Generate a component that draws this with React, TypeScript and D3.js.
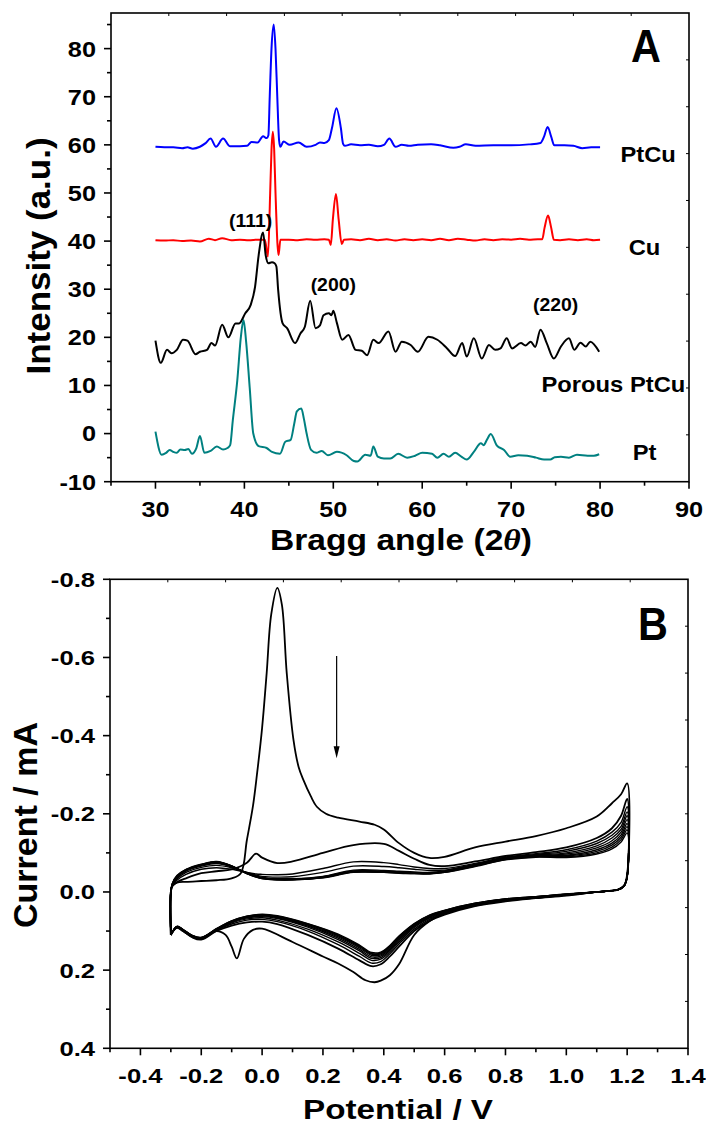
import React from "react";
import * as d3 from "d3";

// ---------- Panel A : XRD patterns (2theta, intensity a.u.) ----------
const ptcuXrd: [number, number][] = [
  [30, 59.6], [31, 59.5], [32, 59.5], [33, 59.3], [33.6, 59.5], [34.2, 59.2], [35, 59.6], [35.6, 60.3],
  [36.2, 61.3], [36.8, 59.6], [37.6, 61.3], [38.4, 59.7], [39.5, 59.7], [40.3, 59.8], [40.8, 60.6],
  [41.5, 60.5], [42.1, 61.8], [42.5, 61.4], [42.7, 62.0], [42.85, 70], [43.05, 80], [43.3, 85], [43.5, 80],
  [43.7, 70], [43.9, 61], [44.05, 59.6], [44.4, 60.7], [45.1, 60.0], [46.1, 60.5], [47.0, 59.6], [48.0, 60.0],
  [48.5, 60.5], [49.0, 60.4], [49.5, 61.0], [49.85, 63.5], [50.35, 67.6], [50.85, 63.5], [51.1, 60.2],
  [51.3, 59.8], [52, 60.1], [53, 59.9], [54, 60.0], [55, 59.7], [55.7, 60.0], [56.3, 61.3], [57.0, 59.6],
  [57.7, 60.0], [58.5, 59.8], [59.5, 60.0], [61, 60.1], [62, 59.9], [63.5, 59.4], [64.2, 59.6], [64.9, 60.1],
  [66, 59.8], [68, 59.9], [70, 59.9], [72, 60.1], [73.3, 60.4], [73.7, 61.7], [74.1, 63.7], [74.5, 61.7],
  [74.85, 59.9], [76, 59.9], [77, 59.8], [78, 59.3], [79, 59.5], [80, 59.5],
];

const cuXrd: [number, number][] = [
  [30, 40.2], [31, 40.1], [32, 40.2], [33, 40.0], [34, 40.1], [35, 39.9], [36, 40.5], [36.7, 40.2],
  [37.5, 40.6], [38.5, 40.2], [39.5, 40.3], [40.5, 40.2], [41.5, 40.3], [42.3, 40.3], [42.65, 36.8],
  [42.9, 50], [43.05, 59], [43.2, 62.7], [43.35, 59], [43.5, 50], [43.84, 37.1], [44.05, 40.3], [45, 40.3],
  [46, 40.2], [47, 40.4], [48, 40.3], [49, 40.4], [49.5, 40.3], [49.72, 39.2], [49.95, 44.5], [50.3, 49.8],
  [50.6, 44.5], [50.95, 39.4], [51.2, 40.3], [52, 40.4], [53, 40.2], [54, 40.5], [55, 40.2], [56, 40.4],
  [57, 40.1], [58, 40.4], [59, 40.2], [60, 40.4], [61, 40.2], [62, 40.5], [63, 40.2], [64, 40.5], [65, 40.3],
  [66, 40.1], [67, 40.4], [68, 40.2], [69, 40.4], [70, 40.3], [71, 40.5], [72, 40.3], [73, 40.4],
  [73.5, 40.4], [73.76, 42.8], [74.15, 45.3], [74.5, 42.8], [74.8, 40.3], [75.5, 40.2], [76.5, 40.4],
  [77.5, 40.2], [78.5, 40.4], [79.3, 40.2], [80, 40.3],
];

const porousXrd: [number, number][] = [
  [30, 19.3], [30.6, 14.7], [31.3, 17.4], [31.8, 16.7], [32.4, 17.4], [33.1, 19.5], [33.6, 19.3],
  [34.5, 16.5], [35.0, 17.0], [35.8, 17.4], [36.3, 18.8], [36.7, 18.3], [37.5, 22.6], [38.2, 20.0],
  [39.0, 22.9], [39.4, 22.9], [40.1, 25.0], [40.7, 26.7], [41.2, 30.5], [41.6, 37], [42.1, 41.8],
  [42.4, 37], [42.7, 35.4], [43.1, 35.6], [43.4, 35.4], [43.6, 34.7], [43.8, 29.8], [44.3, 22.9],
  [44.8, 21.9], [45.7, 18.8], [46.3, 20.8], [46.8, 22.2], [47.4, 27.6], [48.0, 21.9], [48.5, 22.5],
  [48.9, 24.6], [49.5, 25.0], [49.8, 24.6], [50.0, 25.5], [50.4, 23], [51.0, 19.5], [51.7, 20.5],
  [52.5, 17.4], [53.2, 17.2], [53.8, 16.3], [54.5, 19.5], [55.1, 18.8], [56.2, 21.2], [57.0, 17.0],
  [57.7, 19.1], [58.7, 18.4], [59.5, 17.0], [60.7, 20.1], [61.7, 19.5], [62.8, 17.7], [63.7, 16.1],
  [64.5, 18.8], [65.0, 16.0], [65.8, 19.8], [66.7, 15.6], [67.5, 18.4], [68.2, 17.4], [68.8, 17.7],
  [69.5, 19.8], [70.1, 17.7], [71.1, 18.8], [71.6, 18.3], [72.2, 19.1], [72.7, 18.0], [73.3, 21.6],
  [74.0, 18.8], [74.8, 15.6], [75.6, 18.1], [76.5, 19.8], [77.1, 17.4], [77.8, 18.9], [78.4, 18.1],
  [78.9, 19.1], [79.9, 17.0],
];

const ptXrd: [number, number][] = [
  [30, 0.4], [30.7, -4.4], [31.2, -4.0], [31.6, -3.4], [32.0, -3.8], [32.4, -4.0], [32.8, -3.3],
  [33.3, -3.4], [33.7, -3.2], [34.1, -4.2], [34.6, -3.0], [35.0, -0.5], [35.5, -4.0], [36.2, -3.6],
  [36.9, -2.7], [37.6, -3.3], [38.1, -3.0], [38.4, -2.4], [38.7, 2.8], [39.2, 11], [39.6, 20],
  [39.9, 23.6], [40.2, 19], [40.6, 9.5], [41.0, 0], [41.6, -2.6], [42.5, -3.0], [43.1, -3.8], [44.0, -4.2],
  [44.6, -1.7], [45.2, -1.3], [45.6, 2], [45.9, 4.6], [46.4, 5.2], [46.7, 3], [47.0, 0], [47.5, -3.4],
  [48.1, -4.0], [48.7, -3.6], [49.4, -4.5], [50.4, -3.8], [51.5, -4.5], [52.3, -5.7], [52.7, -5.8],
  [53.6, -4.4], [54.2, -4.6], [54.5, -2.7], [55.0, -4.8], [55.7, -5.2], [56.4, -5.2], [57.3, -4.2],
  [58.3, -5.0], [59.2, -4.6], [60.0, -4.0], [61.1, -4.2], [61.7, -5], [62.4, -4.2], [63.0, -4.8],
  [63.7, -4.0], [64.4, -4.8], [65.0, -5.4], [65.8, -3.8], [66.6, -2.0], [66.9, -2.4], [67.3, -1.2],
  [67.7, -0.1], [68.4, -2.5], [69.2, -3.4], [69.9, -4.8], [70.8, -4.5], [71.8, -4.6], [72.8, -5.0],
  [73.7, -5.4], [74.4, -5.4], [74.9, -4.9], [75.6, -4.8], [76.5, -5.0], [77.4, -4.4], [78.6, -4.6],
  [79.3, -4.6], [79.9, -4.3],
];

const xrdSeries = [
  { name: "PtCu", color: "#0000ff", points: ptcuXrd },
  { name: "Cu", color: "#ff0000", points: cuXrd },
  { name: "Porous PtCu", color: "#000000", points: porousXrd },
  { name: "Pt", color: "#008080", points: ptXrd },
];

// series labels and peak labels, anchored in data coordinates
const xrdNames = [
  { text: "PtCu", at: [85.4, 56.45] },
  { text: "Cu", at: [85.0, 37.1] },
  { text: "Porous PtCu", at: [81.5, 8.64] },
  { text: "Pt", at: [85.0, -5.49] },
];
const peakNames = [
  { text: "(111)", at: [40.7, 43.0] },
  { text: "(200)", at: [50.0, 29.6] },
  { text: "(220)", at: [75.0, 25.5] },
];

const aXMajor = [30, 40, 50, 60, 70, 80, 90];
const aXMinor = [25, 35, 45, 55, 65, 75, 85];
const aYMajor = [-10, 0, 10, 20, 30, 40, 50, 60, 70, 80];
const aYMinor = [-5, 5, 15, 25, 35, 45, 55, 65, 75, 85];

// ---------- Panel B : cyclic voltammograms (V, mA) ----------
// first cycle, anodic sweep
const E_C1 = [-0.3, -0.3, -0.295, -0.28, -0.25, -0.2, -0.15, -0.1, -0.07, -0.05, -0.03, -0.017, 0, 0.015, 0.03,
  0.05, 0.065, 0.081, 0.103, 0.12, 0.136, 0.16, 0.18, 0.21, 0.25, 0.32, 0.37, 0.4, 0.45, 0.5, 0.55, 0.6, 0.7,
  0.8, 0.9, 1.0, 1.1, 1.15, 1.18, 1.2];
const I_C1 = [0.11, 0.0, -0.015, -0.024, -0.026, -0.028, -0.03, -0.035, -0.048, -0.133, -0.22, -0.3, -0.42,
  -0.56, -0.71, -0.778, -0.735, -0.56, -0.39, -0.32, -0.286, -0.245, -0.218, -0.2, -0.19, -0.18, -0.172,
  -0.16, -0.125, -0.1, -0.087, -0.09, -0.114, -0.129, -0.143, -0.163, -0.193, -0.227, -0.25, -0.278];
// first cycle, cathodic sweep
const E_C1R = [1.2, 1.19, 1.17, 1.13, 1.1, 1.0, 0.9, 0.8, 0.7, 0.6, 0.55, 0.5, 0.45, 0.42, 0.39, 0.37, 0.34,
  0.3, 0.25, 0.2, 0.1, 0.0, -0.03, -0.06, -0.083, -0.1, -0.12, -0.15, -0.2, -0.23, -0.26, -0.28, -0.3];
const I_C1R = [-0.045, -0.016, -0.006, -0.002, 0.0, 0.008, 0.015, 0.022, 0.035, 0.055, 0.075, 0.11, 0.185,
  0.213, 0.227, 0.231, 0.226, 0.205, 0.183, 0.165, 0.128, 0.094, 0.097, 0.12, 0.17, 0.14, 0.11, 0.1, 0.119,
  0.114, 0.1, 0.09, 0.11];

// later cycles share potential grids
const E_AN = [-0.3, -0.3, -0.295, -0.28, -0.25, -0.2, -0.15, -0.1, -0.05, -0.02, 0, 0.05, 0.1, 0.2, 0.3, 0.4,
  0.45, 0.5, 0.55, 0.6, 0.7, 0.8, 0.9, 1.0, 1.1, 1.15, 1.18, 1.2];
const E_CA = [1.2, 1.19, 1.17, 1.13, 1.1, 1.0, 0.9, 0.8, 0.7, 0.6, 0.55, 0.5, 0.45, 0.42, 0.39, 0.36, 0.32,
  0.25, 0.15, 0.05, 0.0, -0.05, -0.1, -0.15, -0.2, -0.23, -0.26, -0.28, -0.3];

const anodic = [
  [0.11, 0.0, -0.015, -0.025, -0.035, -0.048, -0.053, -0.058, -0.075, -0.098, -0.088, -0.074, -0.078, -0.1,
    -0.12, -0.123, -0.105, -0.085, -0.069, -0.066, -0.078, -0.092, -0.102, -0.114, -0.138, -0.163, -0.195, -0.238],
  [0.11, 0.0, -0.017, -0.03, -0.045, -0.058, -0.062, -0.058, -0.05, -0.046, -0.045, -0.044, -0.046, -0.06,
    -0.077, -0.075, -0.07, -0.064, -0.06, -0.06, -0.073, -0.089, -0.098, -0.108, -0.13, -0.153, -0.178, -0.218],
  [0.11, 0.0, -0.018, -0.033, -0.05, -0.063, -0.068, -0.062, -0.05, -0.043, -0.04, -0.038, -0.039, -0.05,
    -0.066, -0.065, -0.062, -0.058, -0.055, -0.056, -0.071, -0.088, -0.096, -0.104, -0.124, -0.145, -0.168, -0.205],
  [0.11, 0.0, -0.019, -0.036, -0.053, -0.066, -0.073, -0.064, -0.049, -0.041, -0.037, -0.034, -0.034, -0.04,
    -0.056, -0.055, -0.053, -0.051, -0.05, -0.054, -0.07, -0.087, -0.094, -0.1, -0.118, -0.138, -0.16, -0.195],
  [0.11, 0.0, -0.02, -0.038, -0.055, -0.068, -0.075, -0.065, -0.048, -0.04, -0.036, -0.033, -0.033, -0.039,
    -0.054, -0.053, -0.051, -0.049, -0.049, -0.053, -0.069, -0.086, -0.093, -0.097, -0.113, -0.131, -0.153, -0.185],
  [0.11, 0.0, -0.02, -0.039, -0.056, -0.069, -0.076, -0.066, -0.048, -0.04, -0.035, -0.032, -0.032, -0.038,
    -0.053, -0.052, -0.05, -0.048, -0.048, -0.052, -0.068, -0.085, -0.092, -0.094, -0.108, -0.125, -0.146, -0.175],
  [0.11, 0.0, -0.021, -0.04, -0.057, -0.07, -0.077, -0.066, -0.047, -0.039, -0.035, -0.032, -0.032, -0.037,
    -0.052, -0.051, -0.049, -0.048, -0.047, -0.051, -0.067, -0.084, -0.091, -0.092, -0.104, -0.12, -0.14, -0.167],
  [0.11, 0.0, -0.021, -0.041, -0.057, -0.07, -0.077, -0.067, -0.047, -0.039, -0.034, -0.031, -0.031, -0.037,
    -0.051, -0.05, -0.049, -0.047, -0.047, -0.05, -0.066, -0.083, -0.09, -0.09, -0.1, -0.115, -0.134, -0.159],
  [0.11, 0.0, -0.022, -0.042, -0.058, -0.071, -0.078, -0.067, -0.047, -0.038, -0.034, -0.031, -0.031, -0.036,
    -0.05, -0.05, -0.048, -0.047, -0.046, -0.05, -0.065, -0.082, -0.089, -0.088, -0.097, -0.11, -0.128, -0.151],
];

const cathodic = [
  [-0.04, -0.016, -0.006, -0.002, 0.0, 0.009, 0.016, 0.024, 0.036, 0.058, 0.074, 0.1, 0.14, 0.165, 0.185,
    0.19, 0.175, 0.145, 0.11, 0.082, 0.076, 0.078, 0.086, 0.1, 0.122, 0.116, 0.1, 0.092, 0.11],
  [-0.04, -0.016, -0.006, -0.002, 0.0, 0.008, 0.015, 0.022, 0.034, 0.055, 0.07, 0.095, 0.133, 0.158, 0.178,
    0.182, 0.165, 0.135, 0.1, 0.076, 0.07, 0.072, 0.082, 0.098, 0.121, 0.115, 0.099, 0.091, 0.11],
  [-0.04, -0.016, -0.006, -0.002, 0.0, 0.008, 0.014, 0.021, 0.033, 0.053, 0.067, 0.091, 0.128, 0.153, 0.172,
    0.175, 0.157, 0.128, 0.095, 0.072, 0.066, 0.069, 0.079, 0.097, 0.12, 0.114, 0.098, 0.09, 0.11],
  [-0.04, -0.016, -0.006, -0.002, 0.0, 0.007, 0.014, 0.02, 0.032, 0.052, 0.065, 0.088, 0.124, 0.149, 0.168,
    0.17, 0.151, 0.122, 0.09, 0.068, 0.063, 0.066, 0.077, 0.096, 0.119, 0.113, 0.098, 0.09, 0.11],
  [-0.04, -0.016, -0.006, -0.002, 0.0, 0.007, 0.013, 0.019, 0.031, 0.05, 0.063, 0.086, 0.121, 0.146, 0.164,
    0.166, 0.147, 0.118, 0.087, 0.066, 0.061, 0.065, 0.076, 0.096, 0.118, 0.113, 0.097, 0.089, 0.11],
  [-0.04, -0.016, -0.006, -0.002, 0.0, 0.006, 0.013, 0.019, 0.03, 0.049, 0.062, 0.084, 0.118, 0.143, 0.161,
    0.162, 0.143, 0.115, 0.085, 0.064, 0.06, 0.064, 0.075, 0.095, 0.118, 0.112, 0.097, 0.089, 0.11],
  [-0.04, -0.016, -0.006, -0.002, 0.0, 0.006, 0.012, 0.018, 0.03, 0.048, 0.061, 0.083, 0.116, 0.14, 0.158,
    0.159, 0.14, 0.112, 0.083, 0.063, 0.059, 0.063, 0.075, 0.095, 0.117, 0.112, 0.096, 0.089, 0.11],
  [-0.04, -0.016, -0.006, -0.002, 0.0, 0.006, 0.012, 0.018, 0.029, 0.047, 0.06, 0.082, 0.114, 0.138, 0.156,
    0.157, 0.138, 0.11, 0.082, 0.062, 0.058, 0.062, 0.074, 0.094, 0.117, 0.111, 0.096, 0.088, 0.11],
  [-0.04, -0.016, -0.006, -0.002, 0.0, 0.005, 0.012, 0.018, 0.029, 0.047, 0.059, 0.081, 0.113, 0.137, 0.154,
    0.155, 0.136, 0.108, 0.081, 0.061, 0.057, 0.062, 0.074, 0.094, 0.116, 0.111, 0.096, 0.088, 0.11],
];

// arrow showing the decrease with cycling (potential, current from -> to)
const arrowE = 0.245;
const arrowFrom = -0.604;
const arrowTo = -0.342;

const bXMajor = [-0.4, -0.2, 0, 0.2, 0.4, 0.6, 0.8, 1.0, 1.2, 1.4];
const bXMinor = [-0.5, -0.3, -0.1, 0.1, 0.3, 0.5, 0.7, 0.9, 1.1, 1.3];
const bYMajor = [-0.8, -0.6, -0.4, -0.2, 0, 0.2, 0.4];
const bYMinor = [-0.7, -0.5, -0.3, -0.1, 0.1, 0.3];

const FONT = "'Liberation Sans', Arial, Helvetica, sans-serif";

const zip = (e: number[], i: number[]) => e.map((v, k) => [v, i[k]] as [number, number]);

function Txt({ x, y, size, sx = 1, anchor = "middle", rotate = 0, children }: any) {
  return (
    <text
      transform={`translate(${x},${y}) rotate(${rotate}) scale(${sx},1)`}
      textAnchor={anchor}
      fontSize={size}
      fontWeight="bold"
      fontFamily={FONT}
      fill="#000"
    >
      {children}
    </text>
  );
}

// box frame with outward ticks on left/bottom and small inward ticks on top/right
function Axes({ x, y, xMajor, xMinor, yMajor, yMinor, fmtX, fmtY, size, sx }: any) {
  const [x0, x1] = x.range();
  const yb = Math.max(...y.range()); // bottom
  const yt = Math.min(...y.range()); // top
  const frac = d3.range(1, 10).map((i) => i / 10);
  return (
    <g stroke="#000" strokeWidth={1.6} fill="none">
      <rect x={x0} y={yt} width={x1 - x0} height={yb - yt} />
      {xMajor.map((v: number) => (
        <line key={"xM" + v} x1={x(v)} x2={x(v)} y1={yb} y2={yb + 7} />
      ))}
      {xMinor.map((v: number) => (
        <line key={"xm" + v} x1={x(v)} x2={x(v)} y1={yb} y2={yb + 4} />
      ))}
      {yMajor.map((v: number) => (
        <line key={"yM" + v} x1={x0} x2={x0 - 7} y1={y(v)} y2={y(v)} />
      ))}
      {yMinor.map((v: number) => (
        <line key={"ym" + v} x1={x0} x2={x0 - 4} y1={y(v)} y2={y(v)} />
      ))}
      {frac.map((f) => (
        <line key={"t" + f} x1={x0 + f * (x1 - x0)} x2={x0 + f * (x1 - x0)} y1={yt} y2={yt + 3} strokeWidth={1} />
      ))}
      {frac.map((f) => (
        <line key={"r" + f} x1={x1} x2={x1 - 3} y1={yt + f * (yb - yt)} y2={yt + f * (yb - yt)} strokeWidth={1} />
      ))}
      <g stroke="none">
        {xMajor.map((v: number) => (
          <Txt key={"xl" + v} x={x(v)} y={yb + 35} size={size} sx={sx}>
            {fmtX(v)}
          </Txt>
        ))}
        {yMajor.map((v: number) => (
          <Txt key={"yl" + v} x={x0 - 15} y={y(v) + size * 0.36} size={size} sx={sx} anchor="end">
            {fmtY(v)}
          </Txt>
        ))}
      </g>
    </g>
  );
}

export default function App() {
  const xA = d3.scaleLinear().domain([25, 90]).range([111, 689]);
  const yA = d3.scaleLinear().domain([-10, 87.4]).range([481.7, 13]);
  const xB = d3.scaleLinear().domain([-0.5, 1.4]).range([110, 688]);
  const yB = d3.scaleLinear().domain([-0.8, 0.4]).range([579.3, 1048.3]);

  const lineA = d3
    .line<[number, number]>()
    .x((d) => xA(d[0]))
    .y((d) => yA(d[1]))
    .curve(d3.curveMonotoneX);

  const lineB = d3
    .line<[number, number]>()
    .x((d) => xB(d[0]))
    .y((d) => yB(d[1]))
    .curve(d3.curveCatmullRom.alpha(0.5));

  const cycles = [[...zip(E_C1, I_C1), ...zip(E_C1R, I_C1R)]].concat(
    anodic.map((a, k) => [...zip(E_AN, a), ...zip(E_CA, cathodic[k])])
  );

  const ax = xB(arrowE);
  const tipY = yB(arrowTo);

  return (
    <svg
      width={706}
      height={1126}
      style={{ position: "absolute", left: 0, top: 0, background: "#fff" }}
    >
      {/* ---------- Panel A ---------- */}
      <Axes
        x={xA}
        y={yA}
        xMajor={aXMajor}
        xMinor={aXMinor}
        yMajor={aYMajor}
        yMinor={aYMinor}
        fmtX={(v: number) => String(v)}
        fmtY={(v: number) => String(v)}
        size={22}
        sx={1.15}
      />
      {xrdSeries.map((s) => (
        <path key={s.name} d={lineA(s.points) || ""} fill="none" stroke={s.color} strokeWidth={2} strokeLinejoin="round" />
      ))}
      {xrdNames.map((n) => (
        <Txt key={n.text} x={xA(n.at[0])} y={yA(n.at[1])} size={22} sx={1.08}>
          {n.text}
        </Txt>
      ))}
      {peakNames.map((n) => (
        <Txt key={n.text} x={xA(n.at[0])} y={yA(n.at[1])} size={18} sx={1.08}>
          {n.text}
        </Txt>
      ))}
      <Txt x={646} y={62} size={46} sx={0.9}>A</Txt>
      <Txt x={49.5} y={256} size={33} sx={1.06} rotate={-90}>
        Intensity (a.u.)
      </Txt>
      <Txt x={401} y={550} size={30} sx={1.12}>
        Bragg angle (2
        <tspan fontFamily="'Liberation Serif', 'Times New Roman', serif" fontStyle="italic">θ</tspan>)
      </Txt>

      {/* ---------- Panel B ---------- */}
      <Axes
        x={xB}
        y={yB}
        xMajor={bXMajor}
        xMinor={bXMinor}
        yMajor={bYMajor}
        yMinor={bYMinor}
        fmtX={(v: number) => v.toFixed(1)}
        fmtY={(v: number) => v.toFixed(1)}
        size={20.5}
        sx={1.25}
      />
      {cycles.map((c, k) => (
        <path key={k} d={lineB(c) || ""} fill="none" stroke="#000" strokeWidth={k < 2 ? 1.8 : 1.4} strokeLinejoin="round" />
      ))}
      <line x1={ax} x2={ax} y1={yB(arrowFrom)} y2={tipY - 10} stroke="#000" strokeWidth={1.2} />
      <path d={`M${ax - 3},${tipY - 12} L${ax + 3},${tipY - 12} L${ax},${tipY} Z`} fill="#000" />
      <Txt x={653} y={640} size={46} sx={0.9}>B</Txt>
      <Txt x={37} y={825} size={34} rotate={-90}>
        Current / mA
      </Txt>
      <Txt x={398} y={1119} size={27} sx={1.23}>
        Potential / V
      </Txt>
    </svg>
  );
}
